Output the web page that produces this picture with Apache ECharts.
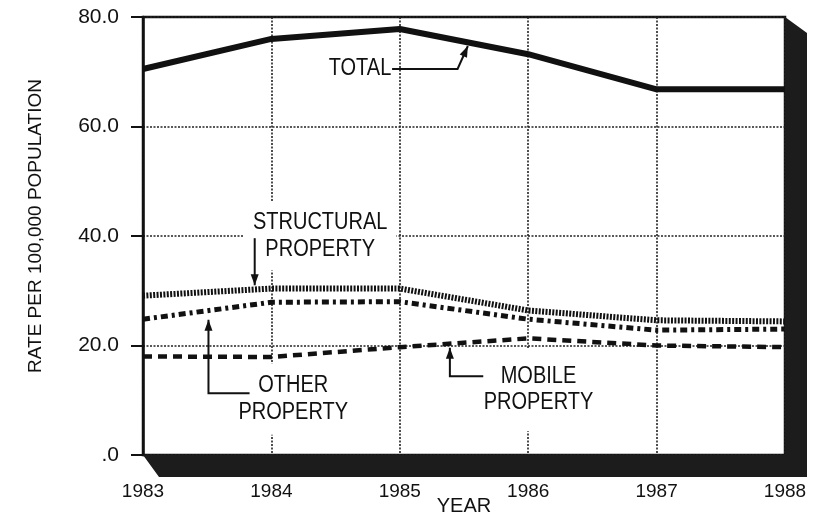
<!DOCTYPE html>
<html>
<head>
<meta charset="utf-8">
<script src="https://cdn.jsdelivr.net/npm/echarts@6/dist/echarts.min.js"></script>
<style>
  html, body { margin: 0; padding: 0; background: #fff; }
  #chart { width: 821px; height: 514px; }
</style>
</head>
<body>
<div id="chart"></div>
<script>
// values
var years = [1983, 1984, 1985, 1986, 1987, 1988];
var total = [70.5, 76.0, 77.8, 73.2, 66.8, 66.8];
var structural = [29.1, 30.4, 30.4, 26.4, 24.6, 24.4];
var other = [24.8, 27.9, 28.0, 24.8, 22.8, 23.0];
var mobile = [18.0, 17.9, 19.7, 21.3, 20.0, 19.7];
var yTicks = [0, 20, 40, 60, 80];
var yTickLabels = ['.0', '20.0', '40.0', '60.0', '80.0'];

var INK = '#111';
var FONT = '"Liberation Sans", Arial, sans-serif';

function pairs(vals) {
  return years.map(function (y, i) { return [y, vals[i]]; });
}

var chart = echarts.init(document.getElementById('chart'));

chart.setOption({
  animation: false,
  backgroundColor: '#fff',
  grid: {
    left: 143, top: 17, right: 36, bottom: 59,
    outerBoundsMode: 'none',
    show: true, borderColor: INK, borderWidth: 2.5
  },
  xAxis: {
    type: 'value',
    min: 1983, max: 1988, interval: 1,
    name: 'YEAR',
    nameLocation: 'middle',
    nameGap: 41,
    nameMoveOverlap: false,
    nameTextStyle: { color: INK, fontSize: 20, fontFamily: FONT },
    axisLine: { show: false },
    axisTick: { show: false },
    axisLabel: {
      color: INK, fontSize: 19, fontFamily: FONT, margin: 27,
      formatter: function (v) { return String(v); }
    },
    splitLine: { show: true, lineStyle: { color: '#222', width: 1.6, type: [2, 1.5] } }
  },
  yAxis: {
    type: 'value',
    min: 0, max: 80, interval: 20,
    name: 'RATE PER 100,000 POPULATION',
    nameLocation: 'middle',
    nameGap: 98,
    nameMoveOverlap: false,
    nameTextStyle: { color: INK, fontSize: 19, fontFamily: FONT, padding: [0, 0, 0, 20] },
    axisLine: { show: true, lineStyle: { color: INK, width: 2.5 } },
    axisTick: { show: true, length: 12, lineStyle: { color: INK, width: 2 } },
    axisLabel: {
      color: INK, fontSize: 21, fontFamily: FONT, margin: 24,
      formatter: function (v) { return yTickLabels[yTicks.indexOf(v)]; }
    },
    splitLine: { show: true, lineStyle: { color: '#222', width: 1.6, type: [2, 1.5] } }
  },
  series: [
    { name: 'TOTAL', type: 'line', symbol: 'none', data: pairs(total),
      lineStyle: { color: INK, width: 6 } },
    { name: 'STRUCTURAL PROPERTY', type: 'line', symbol: 'none', data: pairs(structural),
      lineStyle: { color: INK, width: 6, type: [2, 1.4] } },
    { name: 'OTHER PROPERTY', type: 'line', symbol: 'none', data: pairs(other),
      lineStyle: { color: INK, width: 5, type: [7, 4, 3, 4] } },
    { name: 'MOBILE PROPERTY', type: 'line', symbol: 'none', data: pairs(mobile),
      lineStyle: { color: INK, width: 4.5, type: [9, 6] } }
  ]
});

// callouts, placed in data coordinates
var notes = [
  { text: 'TOTAL', at: [1984.69, 70.5], pad: [2, 3],
    path: [[1984.94, 70.5], [1985.45, 70.5], [1985.53, 74.7]] },
  { text: 'STRUCTURAL\nPROPERTY', at: [1984.38, 40.0], pad: [7, 9],
    path: [[1983.87, 39.6], [1983.87, 31.0]] },
  { text: 'OTHER\nPROPERTY', at: [1984.17, 10.2], pad: [8, 8],
    path: [[1983.83, 11.3], [1983.51, 11.3], [1983.51, 24.7]] },
  { text: 'MOBILE\nPROPERTY', at: [1986.08, 11.9], pad: [18, 8, 8, 8],
    path: [[1985.65, 14.4], [1985.39, 14.4], [1985.39, 19.6]] }
];

function toPx(p) { return chart.convertToPixel({ gridIndex: 0 }, p); }

var graphics = [];
notes.forEach(function (n) {
  var c = toPx(n.at);
  graphics.push({
    type: 'text', x: c[0], y: c[1], z: 1, scaleY: 1.15,
    style: {
      text: n.text, fill: INK, font: '20px ' + FONT,
      align: 'center', verticalAlign: 'middle', lineHeight: 23,
      backgroundColor: '#fff', padding: n.pad
    }
  });
  var pts = n.path.map(toPx);
  graphics.push({
    type: 'polyline', z: 5,
    shape: { points: pts },
    style: { stroke: INK, lineWidth: 2, fill: null }
  });
  var a = pts[pts.length - 2], b = pts[pts.length - 1];
  var ang = Math.atan2(b[1] - a[1], b[0] - a[0]);
  var L = 11, W = 4;
  var bx = b[0] - L * Math.cos(ang), by = b[1] - L * Math.sin(ang);
  graphics.push({
    type: 'polygon', z: 5,
    shape: { points: [b,
      [bx + W * Math.sin(ang), by - W * Math.cos(ang)],
      [bx - W * Math.sin(ang), by + W * Math.cos(ang)]] },
    style: { fill: INK }
  });
});

// dark drop-shadow frame below and right of the plot
var p0 = toPx([1983, 0]), p1 = toPx([1988, 0]), p2 = toPx([1988, 80]);
graphics.push({
  type: 'polygon', z: 4,
  shape: { points: [
    [p0[0], p0[1]], [p1[0], p1[1]], [p2[0], p2[1]],
    [p2[0] + 22, p2[1] + 16], [p1[0] + 22, p1[1] + 22], [p0[0] + 16, p0[1] + 22]
  ] },
  style: { fill: '#1c1c1c' }
});

chart.setOption({ graphic: graphics });
</script>
</body>
</html>
